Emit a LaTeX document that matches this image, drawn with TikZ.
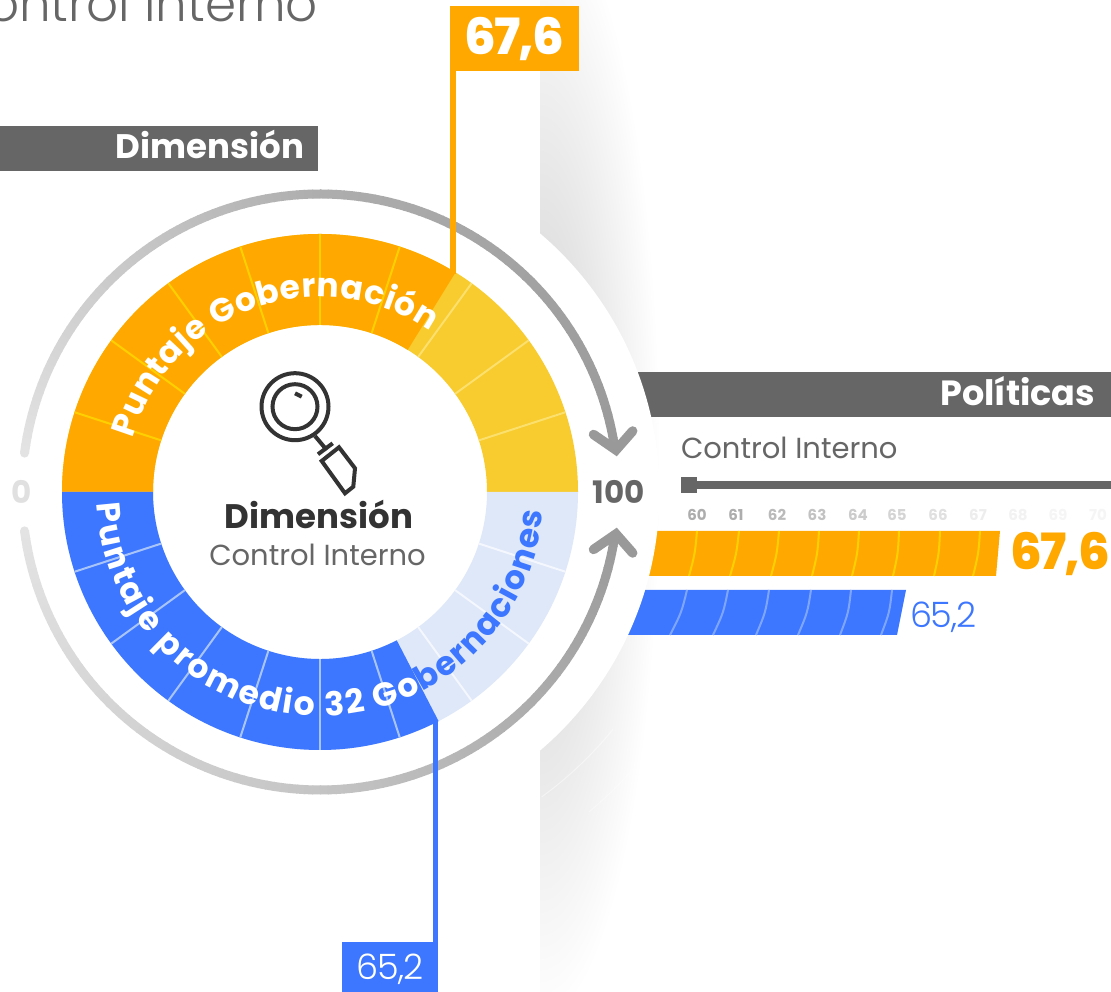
\documentclass[tikz,border=0pt]{standalone}
\usepackage{fontspec}
\usetikzlibrary{decorations.text}
\setmainfont{Poppins}
\newfontfamily\fbold{Poppins}[UprightFont=* Bold]
\newfontfamily\fxbold{Poppins ExtraBold}[LetterSpace=-4]
\newfontfamily\flight{Poppins Light}
\newfontfamily\fxlight{Poppins Light}[LetterSpace=-3.5]
\newfontfamily\freg{Poppins}
\definecolor{cOrange}{HTML}{FFA800}
\definecolor{cYellow}{HTML}{F8CB2E}
\definecolor{cBlue}{HTML}{3D77FF}
\definecolor{cPale}{HTML}{DFE8F9}
\definecolor{cGrey}{HTML}{666666}
\definecolor{cDark}{HTML}{333333}
\definecolor{cArrow}{HTML}{999999}
\definecolor{tickO}{HTML}{FFD000}
\definecolor{tickY}{HTML}{FBE06E}
\definecolor{tickB}{HTML}{A9C5F8}
\definecolor{tickP}{HTML}{F4F7FD}
\definecolor{tickBar}{HTML}{7FA6FF}
\tikzset{
  lab/.style={inner sep=0pt,outer sep=0pt},
  iconline/.style={draw=cDark,line width=4pt},
  chevron/.style={draw=cArrow,line width=9.5pt,line cap=round,line join=miter},
  ringtick/.style={line width=2pt},
}
\begin{document}
\begin{tikzpicture}[x=1pt,y=1pt]
\useasboundingbox (0,0) rectangle (1111,992);
\fill[white] (0,0) rectangle (1111,992);
% shadow
\begin{scope}
\clip (540,0) rectangle (1111,992);
\shade[inner color=black!19,outer color=white] (540,530) ellipse (120 and 560);
\end{scope}
% screen coordinates: x right, y down
\begin{scope}[shift={(0,992)},yscale=-1]
\fill[cGrey] (600,372) rectangle (1111,417);
\fill[cOrange] (620,531) -- (1000,531) -- (996,576) -- (620,576) -- cycle;
\fill[cBlue] (600,590) -- (906,590) -- (897,635) -- (600,635) -- cycle;
\foreach \t/\b in {697/689,739/730,779/771,819/812,859/852,899/893,940/934,980/973}
  \draw[tickO,ringtick] (\t,531) .. controls ({(\t+\b)/2+2},553.5) .. (\b,576);
\foreach \t/\b in {687/670,728/713,769/756,811/798,851/840,892/881}
  \draw[tickBar,ringtick] (\t,590) .. controls ({(\t+\b)/2+3},612.5) .. (\b,635);
\end{scope}
\begin{scope}[shift={(320,500)}]
\fill[white] (0,0) circle (339.5);
% faint arcs in the shadow
\draw[white,opacity=.45,line width=1pt] (306:377) arc (306:321:377);
\draw[white,opacity=.35,line width=1pt] (310:418) arc (310:322:418);
% ring sectors
\fill[cYellow] (180:258) arc (180:0:258) -- (0:167) arc (0:180:167) -- cycle;
\fill[cOrange] (180:258) arc (180:58.32:258) -- (58.32:167) arc (58.32:180:167) -- cycle;
\fill[cPale] (180:258) arc (180:360:258) -- (0:167) arc (360:180:167) -- cycle;
\fill[cBlue] (180:258) arc (180:297.36:258) -- (297.36:167) arc (297.36:180:167) -- cycle;
\foreach \a in {162,144,126,108,90,72} \draw[tickO,ringtick] (\a:167) -- (\a:258);
\foreach \a in {54,36,18} \draw[tickY,ringtick] (\a:167) -- (\a:258);
\foreach \a in {198,216,234,252,270,288} \draw[tickB,ringtick] (\a:167) -- (\a:258);
\foreach \a in {306,324,342} \draw[tickP,ringtick] (\a:167) -- (\a:258);
% ring texts
\newcommand\ringfont{\fbold\fontsize{33}{36}\selectfont}
\path[decorate,decoration={text along path,text align={fit to path},
  text={|\ringfont\color{white}|Puntaje Gobernación}}]
  (164:195) arc (164:55.5:195);
\path[decorate,decoration={text along path,text align={fit to path},
  text={|\ringfont\color{white}|Puntaje promedio 32 Go}}]
  (183:224) arc (183:297:224);
\path[decorate,decoration={text along path,text align={fit to path},
  text={|\ringfont\color{cBlue}|bernaciones}}]
  (297.3:224) arc (297.3:355:224);
% gauge arcs
\foreach \a in {172.5,171,...,8} {
  \pgfmathsetmacro\tt{(172.5-\a)/164.5}
  \pgfmathsetmacro\gv{\tt<0.5 ? 0.89-0.42*\tt : 0.68-0.16*(\tt-0.5)}
  \definecolor{arcc}{gray}{\gv}
  \draw[arcc,line width=9pt] (\a:298) arc (\a:{max(\a-1.7,8)}:298);
}
\foreach \a in {187.5,189,...,352} {
  \pgfmathsetmacro\tt{(\a-187.5)/164.5}
  \pgfmathsetmacro\gv{\tt<0.5 ? 0.89-0.24*\tt : 0.77-0.34*(\tt-0.5)}
  \definecolor{arcc}{gray}{\gv}
  \draw[arcc,line width=9pt] (\a:298) arc (\a:{min(\a+1.7,352)}:298);
}
\fill[black!11] (172.5:298) circle (4.5);
\fill[black!11] (187.5:298) circle (4.5);
\end{scope}
\begin{scope}[shift={(0,992)},yscale=-1]
% arrowheads
\coordinate (tipT) at (616,450);
\coordinate (tipB) at (616,534);
\coordinate (armTL) at (593.5,434.5);
\coordinate (armTR) at (632.7,431);
\coordinate (armBL) at (593.5,549.5);
\coordinate (armBR) at (632.7,553);
\draw[chevron] (armTL) -- (tipT) -- (armTR);
\draw[chevron] (armBL) -- (tipB) -- (armBR);
% headers
\fill[cGrey] (0,126) rectangle (318,171);
\node[lab,anchor=base,text=white] (hdim) at (210,159) {\fbold\fontsize{34}{36}\selectfont Dimensión};
\node[lab,anchor=base east,text=white] (hpol) at (1095,406) {\fbold\fontsize{35}{36}\selectfont Políticas};
\node[lab,anchor=base east,text=cGrey] (title) at (318,22) {\flight\fontsize{50}{54}\selectfont Control Interno};
% connectors
\node[lab,fill=cOrange,minimum width=129pt,minimum height=65pt] (boxO) at (514.5,38.5) {\phantom{0}};
\node[lab,anchor=base,text=white] (boxOt) at (514.5,55) {\fxbold\fontsize{50}{54}\selectfont 67,6};
\node[lab,fill=cBlue,minimum width=96pt,minimum height=50pt] (boxB) at (390,967) {\phantom{0}};
\node[lab,anchor=base,text=white] (boxBt) at (390,980) {\fxlight\fontsize{35}{38}\selectfont 65,2};
\coordinate (ringO) at (453,274);
\coordinate (ringB) at (435.5,720);
\draw[cOrange,line width=5.5pt] (boxO.south west -| ringO) -- (ringO);
\draw[cBlue,line width=5pt] (boxB.north west -| ringB) -- (ringB);
% scale labels
\node[lab,anchor=center,text=black!12] (lab0) at (22,492) {\fbold\fontsize{31}{33}\selectfont 0};
\node[lab,anchor=center,text=cGrey] (lab100) at (619,492) {\fbold\fontsize{31}{33}\selectfont 100};
% centre
\node[lab,anchor=base,text=cDark] (cdim) at (319,529) {\fbold\fontsize{34}{36}\selectfont Dimensión};
\node[lab,anchor=base,text=cGrey] (cctl) at (317.5,566) {\freg\fontsize{29}{32}\selectfont Control Interno};
% icon
\draw[iconline] (295,406.7) circle (33.5);
\draw[iconline] (295,406.7) circle (22.5);
\draw[iconline] (295,393.3) -- (301.7,396.7);
\draw[iconline] (315,436) -- (326.7,450);
\draw[iconline] (318,454.3) -- (332.7,443.3);
\draw[iconline,line join=miter] (321.7,461) -- (339,447.3) -- (355,468.3) -- (353.3,486.7) -- (345,493.3) -- cycle;
% right panel
\node[lab,anchor=base west,text=cGrey] (pctl) at (681,459) {\freg\fontsize{29}{32}\selectfont Control Interno};
\fill[cGrey] (681,477) rectangle (697,493);
\coordinate (sliderEnd) at (1111,484.7);
\coordinate (sliderStart) at (697,484.7);
\draw[cGrey,line width=8pt] (sliderStart) -- (sliderEnd);
\foreach \x/\v/\g in {697/60/32,736/61/32,777/62/27,817/63/24,858/64/20,897/65/17,938/66/12,978/67/7,1018/68/5,1058/69/4,1098/70/4}
  \node[lab,text=black!\g,anchor=base] (t\v) at (\x,520.5) {\fbold\fontsize{15}{17}\selectfont \v};
\node[lab,anchor=base east,text=cOrange] (v1) at (1110,570) {\fxbold\fontsize{50}{54}\selectfont 67,6};
\node[lab,anchor=base west,text=cBlue] (v2) at (910,628) {\fxlight\fontsize{35}{38}\selectfont 65,2};
\end{scope}
\end{tikzpicture}
\end{document}
